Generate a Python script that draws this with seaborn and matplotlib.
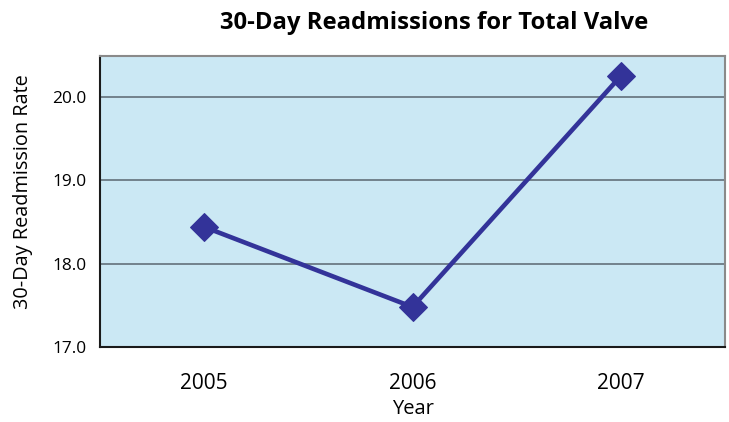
import matplotlib
matplotlib.use("Agg")
import matplotlib.pyplot as plt
import seaborn as sns
import pandas as pd

years = [2005, 2006, 2007]
rates = [18.44, 17.48, 20.25]
y_ticks = [17.0, 18.0, 19.0, 20.0]

df = pd.DataFrame({"Year": years, "Rate": rates})

sns.set_style("white")
plt.rcParams["font.family"] = ["Open Sans", "DejaVu Sans"]
plt.rcParams["text.color"] = "black"
plt.rcParams["axes.labelcolor"] = "black"
plt.rcParams["xtick.color"] = "black"
plt.rcParams["ytick.color"] = "black"

fig = plt.figure(figsize=(7.29, 4.22), dpi=100)
ax = fig.add_axes([0.1372, 0.1777, 0.8573, 0.6896])
ax.set_facecolor("#cbe8f4")

sns.lineplot(data=df, x="Year", y="Rate", ax=ax, color="#333399",
             linewidth=3.3, marker="D", markersize=14,
             markeredgecolor="#333399", zorder=3)

ax.set_xlim(2004.5, 2007.5)
ax.set_ylim(17.0, 20.49)
ax.set_xticks(years)
ax.set_xticklabels([str(y) for y in years], fontsize=15)
ax.set_yticks(y_ticks)
ax.set_yticklabels([f"{v:.1f}" for v in y_ticks], fontsize=12.4)
ax.tick_params(axis="both", length=0)
ax.tick_params(axis="y", pad=9.5)
ax.tick_params(axis="x", pad=19)

for v in y_ticks[1:]:
    ax.axhline(v, color="#5a6670", linewidth=1.1, zorder=1)

for side in ["top", "right"]:
    ax.spines[side].set_color("#8a8a8a")
    ax.spines[side].set_linewidth(1.5)
for side in ["left", "bottom"]:
    ax.spines[side].set_color("#1a1a1a")
    ax.spines[side].set_linewidth(1.5)

ax.set_xlabel("Year", fontsize=14.5, labelpad=3)
ax.set_ylabel("30-Day Readmission Rate", fontsize=14.3)
ax.yaxis.set_label_coords(-0.107, 0.534)
fig.text(0.596, 0.9306, "30-Day Readmissions for Total Valve",
         ha="center", va="baseline", fontsize=17.2, fontweight="bold")

fig.savefig("out.png", dpi=100)
